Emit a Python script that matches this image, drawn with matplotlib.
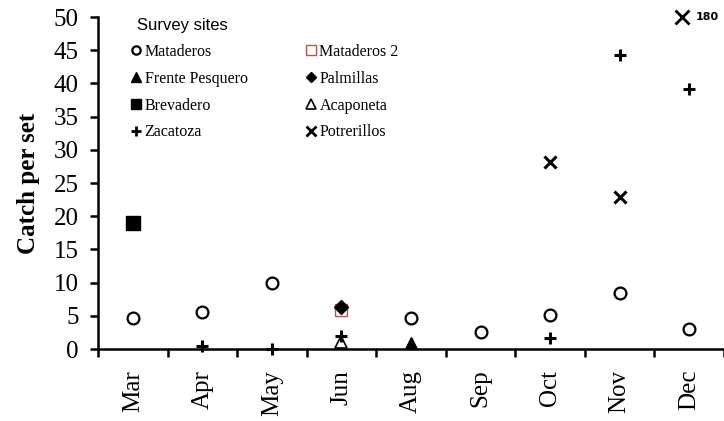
import numpy as np
import matplotlib.pyplot as plt
from matplotlib.lines import Line2D

# Months sampled and catch per set at each survey site (NaN = not sampled)
months = ['Mar', 'Apr', 'May', 'Jun', 'Aug', 'Sep', 'Oct', 'Nov', 'Dec']
nan = np.nan
mataderos = [4.6, 5.6, 9.9, nan, 4.7, 2.5, 5.1, 8.5, 3.0]
mataderos2 = [nan, nan, nan, 5.9, nan, nan, nan, nan, nan]
frente_pesquero = [nan, nan, nan, nan, 0.9, nan, nan, nan, nan]
palmillas = [nan, nan, nan, 6.3, nan, nan, nan, nan, nan]
brevadero = [19.0, nan, nan, nan, nan, nan, nan, nan, nan]
acaponeta = [nan, nan, nan, 1.1, nan, nan, nan, nan, nan]
zacatoza = [nan, 0.5, 0.0, 2.0, nan, nan, 1.7, 44.3, 39.1]
potrerillos = [nan, nan, nan, nan, nan, nan, 28.2, 22.9, 180.0]

y_max = 50
x = np.arange(1, len(months) + 1)

plt.rcParams['font.family'] = ['Liberation Serif', 'DejaVu Serif']

fig = plt.figure(figsize=(7.24, 4.21), dpi=100)
ax = fig.add_axes([98 / 724, 72 / 421, 626 / 724, 332 / 421])

ms = 8.5
ax.plot(x, mataderos, 'o', ms=ms, mfc='white', mec='black', mew=1.6, clip_on=False)
ax.plot(x, mataderos2, 's', ms=9, mfc='white', mec='#c0504d', mew=1.0, clip_on=False)
ax.plot(x, palmillas, 'D', ms=7.5, color='black', clip_on=False)
ax.plot(x, frente_pesquero, '^', ms=8.5, color='black', clip_on=False)
ax.plot(x, brevadero, 's', ms=10, color='black', clip_on=False)
ax.plot(x, acaponeta, '^', ms=8.5, mfc='white', mec='black', mew=1.2, clip_on=False)
ax.plot(x, zacatoza, '+', ms=9, mec='black', mew=2.2, clip_on=False)

# values beyond the axis are pinned to the top and labelled
pot = np.array(potrerillos)
over = pot > y_max
ax.plot(x[~over], pot[~over], 'x', ms=8.5, mec='black', mew=2.2, clip_on=False)
for xi, v in zip(x[over], pot[over]):
    ax.plot(xi - 0.1, y_max, 'x', ms=10.5, mec='black', mew=2.0, clip_on=False)
    ax.annotate(f'{v:.0f}', (xi, y_max), xytext=(5, 0), textcoords='offset points',
                va='center', ha='left', fontsize=8, fontweight='bold',
                family='DejaVu Sans')

ax.set_xlim(0.5, len(months) + 0.5)
ax.set_ylim(0, y_max)
ax.set_yticks(np.arange(0, y_max + 1, 5))
ax.set_xticks(x)
ax.set_xticklabels(months, rotation=90)
ax.set_xticks(np.arange(0.5, len(months) + 1), minor=True)
ax.tick_params(axis='x', which='major', length=0, pad=15, labelsize=18)
ax.tick_params(axis='x', which='minor', length=6, width=1.8, direction='out')
ax.tick_params(axis='y', length=6, width=1.8, direction='out', pad=8, labelsize=18)

for side in ['top', 'right']:
    ax.spines[side].set_visible(False)
for side in ['left', 'bottom']:
    ax.spines[side].set_linewidth(1.8)

ax.set_ylabel('Catch per set', fontsize=18, fontweight='bold', labelpad=10)

# legend laid out in two columns, filled column by column
handles = [
    Line2D([], [], ls='', marker='o', ms=6, mfc='white', mec='black', mew=1.6),
    Line2D([], [], ls='', marker='^', ms=6.5, color='black'),
    Line2D([], [], ls='', marker='s', ms=7, color='black'),
    Line2D([], [], ls='', marker='+', ms=6.5, mec='black', mew=2),
    Line2D([], [], ls='', marker='s', ms=7, mfc='white', mec='#c0504d', mew=1.0),
    Line2D([], [], ls='', marker='D', ms=5.5, color='black'),
    Line2D([], [], ls='', marker='^', ms=6.5, mfc='white', mec='black', mew=1.2),
    Line2D([], [], ls='', marker='x', ms=6.5, mec='black', mew=2),
]
labels = ['Mataderos', 'Frente Pesquero', 'Brevadero', 'Zacatoza',
          'Mataderos 2', 'Palmillas', 'Acaponeta', 'Potrerillos']
leg = ax.legend(handles, labels, ncol=2, frameon=False, title='Survey sites',
                loc='upper left', bbox_to_anchor=(131 / 724, 1 - 18 / 421),
                bbox_transform=fig.transFigure, borderaxespad=0, borderpad=0,
                handlelength=0.6, handletextpad=0.25, columnspacing=3.65,
                labelspacing=0.68, fontsize=11.5, alignment='left')
leg.get_title().set_fontfamily('Liberation Sans')
leg.get_title().set_fontsize(12)
leg.get_title().set_x(6)

fig.savefig('out.png', dpi=100)
